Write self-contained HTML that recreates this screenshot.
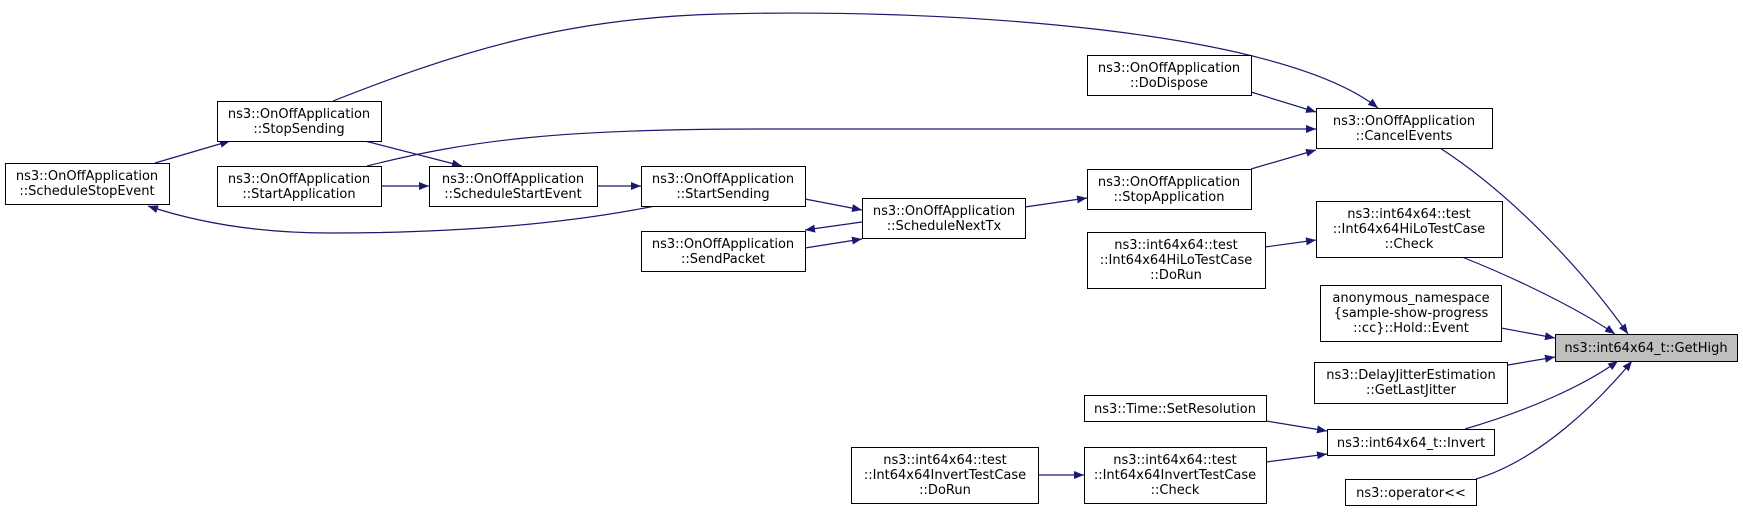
<!DOCTYPE html>
<html><head><meta charset="utf-8"><style>
html,body{margin:0;padding:0;background:#fff;}
svg text{font-family:"DejaVu Sans","Liberation Sans",sans-serif;font-size:13px;fill:#000;}
</style></head><body>
<svg width="1743" height="512" viewBox="0 0 1743 512" xmlns="http://www.w3.org/2000/svg">
<defs>
<marker id="a" viewBox="0 0 10 10" refX="10" refY="5" markerWidth="10" markerHeight="10" markerUnits="userSpaceOnUse" orient="auto">
<path d="M0,1 L10,5 L0,9 z" fill="#191970"/>
</marker>
</defs>
<g fill="none" stroke="#191970" stroke-width="1.2" marker-end="url(#a)">
<path d="M1440,148 C1520,200 1590,280 1628,334"/>
<path d="M1462,257 C1520,280 1580,310 1615,334"/>
<path d="M1501,328 L1555,338"/>
<path d="M1508,365 L1555,357"/>
<path d="M1465,429 C1530,410 1585,385 1618,361"/>
<path d="M1476,479 C1540,460 1600,400 1632,361"/>
<path d="M1251,92 L1316,112"/>
<path d="M1251,169 L1316,150"/>
<path d="M333,101 C450,55 560,18 720,14 C950,8 1280,30 1378,108"/>
<path d="M367,166 C470,140 560,129 760,129 L1316,129"/>
<path d="M365,141 L462,166"/>
<path d="M381,186 L429,186"/>
<path d="M597,186 L641,186"/>
<path d="M805,199 L862,210"/>
<path d="M805,248 L862,239"/>
<path d="M862,222 L805,230"/>
<path d="M655,206 C560,225 450,233 330,233 C250,233 190,220 148,206"/>
<path d="M155,163 L230,141"/>
<path d="M1025,207 L1087,198"/>
<path d="M1265,247 L1316,240"/>
<path d="M1266,421 L1327,431"/>
<path d="M1266,462 L1327,454"/>
<path d="M1038,475 L1084,475"/>
</g>
<g stroke="#000" stroke-width="1" fill="#fff">
<rect x="5.5" y="163.5" width="164" height="41"/>
<rect x="217.5" y="101.5" width="164" height="40"/>
<rect x="217.5" y="166.5" width="164" height="40"/>
<rect x="429.5" y="166.5" width="168" height="40"/>
<rect x="641.5" y="166.5" width="164" height="40"/>
<rect x="641.5" y="231.5" width="164" height="40"/>
<rect x="862.5" y="198.5" width="163" height="40"/>
<rect x="1087.5" y="55.5" width="164" height="40"/>
<rect x="1316.5" y="108.5" width="176" height="40"/>
<rect x="1087.5" y="169.5" width="164" height="40"/>
<rect x="1316.5" y="201.5" width="186" height="56"/>
<rect x="1087.5" y="232.5" width="178" height="56"/>
<rect x="1320.5" y="285.5" width="181" height="56"/>
<rect x="1314.5" y="362.5" width="193" height="41"/>
<rect x="1555.5" y="334.5" width="182" height="27" fill="#bfbfbf"/>
<rect x="1084.5" y="395.5" width="182" height="26"/>
<rect x="1327.5" y="429.5" width="167" height="26"/>
<rect x="1084.5" y="447.5" width="182" height="56"/>
<rect x="851.5" y="447.5" width="187" height="56"/>
<rect x="1345.5" y="479.5" width="131" height="26"/>
</g>
<g text-anchor="middle">
<text x="87" y="180">ns3::OnOffApplication</text><text x="87" y="195">::ScheduleStopEvent</text>
<text x="299" y="118">ns3::OnOffApplication</text><text x="299" y="133">::StopSending</text>
<text x="299" y="183">ns3::OnOffApplication</text><text x="299" y="198">::StartApplication</text>
<text x="513" y="183">ns3::OnOffApplication</text><text x="513" y="198">::ScheduleStartEvent</text>
<text x="723" y="183">ns3::OnOffApplication</text><text x="723" y="198">::StartSending</text>
<text x="723" y="248">ns3::OnOffApplication</text><text x="723" y="263">::SendPacket</text>
<text x="944" y="215">ns3::OnOffApplication</text><text x="944" y="230">::ScheduleNextTx</text>
<text x="1169" y="72">ns3::OnOffApplication</text><text x="1169" y="87">::DoDispose</text>
<text x="1404" y="125">ns3::OnOffApplication</text><text x="1404" y="140">::CancelEvents</text>
<text x="1169" y="186">ns3::OnOffApplication</text><text x="1169" y="201">::StopApplication</text>
<text x="1409" y="218">ns3::int64x64::test</text><text x="1409" y="233">::Int64x64HiLoTestCase</text><text x="1409" y="248">::Check</text>
<text x="1176" y="249">ns3::int64x64::test</text><text x="1176" y="264">::Int64x64HiLoTestCase</text><text x="1176" y="279">::DoRun</text>
<text x="1411" y="302">anonymous_namespace</text><text x="1411" y="317">{sample-show-progress</text><text x="1411" y="332">::cc}::Hold::Event</text>
<text x="1411" y="379">ns3::DelayJitterEstimation</text><text x="1411" y="394">::GetLastJitter</text>
<text x="1646" y="352">ns3::int64x64_t::GetHigh</text>
<text x="1175" y="413">ns3::Time::SetResolution</text>
<text x="1411" y="447">ns3::int64x64_t::Invert</text>
<text x="1175" y="464">ns3::int64x64::test</text><text x="1175" y="479">::Int64x64InvertTestCase</text><text x="1175" y="494">::Check</text>
<text x="945" y="464">ns3::int64x64::test</text><text x="945" y="479">::Int64x64InvertTestCase</text><text x="945" y="494">::DoRun</text>
<text x="1411" y="497">ns3::operator&lt;&lt;</text>
</g>
</svg>
</body></html>
